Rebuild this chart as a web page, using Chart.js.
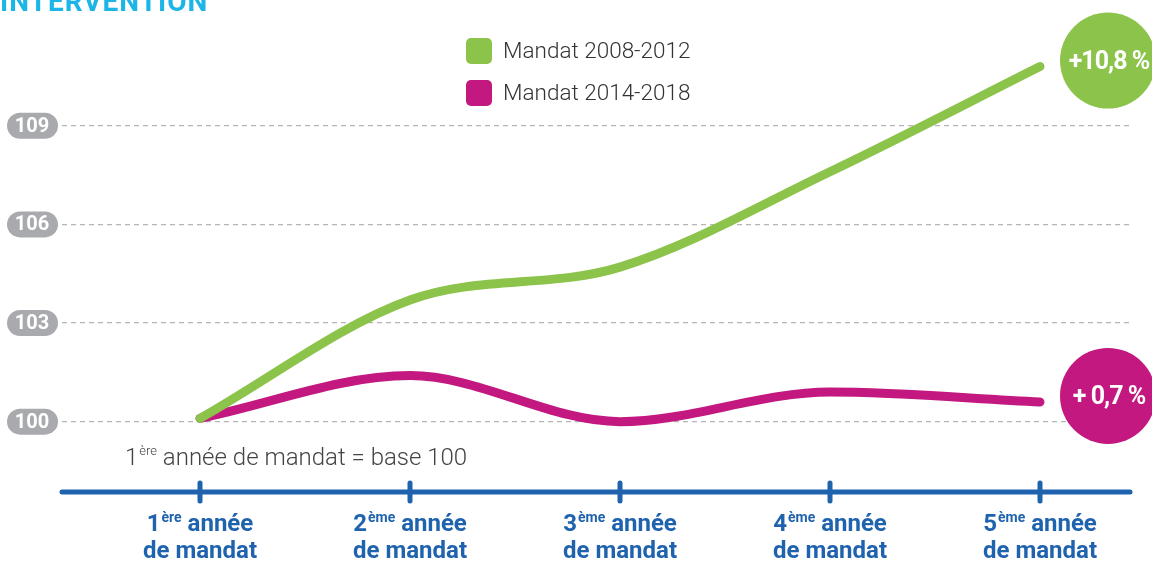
<!DOCTYPE html>
<html>
<head>
<meta charset="utf-8">
<script src="https://cdn.jsdelivr.net/npm/chart.js@4.4.1/dist/chart.umd.min.js"></script>
<style>
  html, body { margin: 0; padding: 0; background: #fff; }
  #wrap { position: relative; width: 1152px; height: 562px; }
</style>
</head>
<body>
<div id="wrap"><canvas id="mandatChart"></canvas></div>
<script>
const years = [1, 2, 3, 4, 5];
const yearNums = ['1', '2', '3', '4', '5'];
const yearSups = ['ère', 'ème', 'ème', 'ème', 'ème'];
const seriesLabels = ['Mandat 2008-2012', 'Mandat 2014-2018'];
const mandat2008 = [100.1, 103.7, 104.7, 107.6, 110.8];
const mandat2014 = [100.1, 101.4, 100.0, 100.9, 100.6];
const yTicks = [100, 103, 106, 109];
const badges = ['+10,8 %', '+ 0,7 %'];

const GREEN = '#8cc34a';
const MAGENTA = '#c2187f';
const BLUE = '#1f63ae';
const PILL = '#a9aaad';
const FONT = 'Roboto, "DejaVu Sans", sans-serif';

function roundRect(ctx, x, y, w, h, r) {
    ctx.beginPath();
    ctx.roundRect(x, y, w, h, r);
    ctx.fill();
}

const decorPlugin = {
    id: 'decor',
    afterDraw(chart) {
        const ctx = chart.ctx;
        const area = chart.chartArea;
        const xs = chart.scales.x;
        const ys = chart.scales.y;
        ctx.save();

        // title cut off at the top
        ctx.fillStyle = '#1cb5e8';
        ctx.font = 'bold 28px ' + FONT;
        ctx.letterSpacing = '1px';
        ctx.textBaseline = 'alphabetic';
        ctx.textAlign = 'left';
        ctx.fillText('INTERVENTION', 0, 11);
        ctx.letterSpacing = '0px';

        // y tick pills
        yTicks.forEach(v => {
            const y = ys.getPixelForValue(v);
            ctx.fillStyle = PILL;
            roundRect(ctx, 7, y - 13, 51, 26, 13);
            ctx.fillStyle = '#fff';
            ctx.font = 'bold 20px ' + FONT;
            ctx.textAlign = 'center';
            ctx.textBaseline = 'middle';
            ctx.fillText(String(v), 32, y + 1);
        });

        // x axis line and ticks
        ctx.strokeStyle = BLUE;
        ctx.lineCap = 'round';
        ctx.lineWidth = 5;
        ctx.beginPath();
        ctx.moveTo(area.left, area.bottom);
        ctx.lineTo(area.right, area.bottom);
        ctx.stroke();
        years.forEach((yr, i) => {
            const x = xs.getPixelForValue(yr);
            ctx.beginPath();
            ctx.moveTo(x, area.bottom - 9);
            ctx.lineTo(x, area.bottom + 9);
            ctx.stroke();

            ctx.fillStyle = BLUE;
            ctx.textBaseline = 'alphabetic';
            ctx.textAlign = 'left';
            const big = 'bold 24px ' + FONT;
            const small = 'bold 14px ' + FONT;
            ctx.font = big;
            const wNum = ctx.measureText(yearNums[i]).width;
            const wRest = ctx.measureText(' année').width;
            ctx.font = small;
            const wSup = ctx.measureText(yearSups[i]).width;
            let sx = x - (wNum + wSup + 1 + wRest) / 2;
            ctx.font = big;
            ctx.fillText(yearNums[i], sx, 531);
            ctx.font = small;
            ctx.fillText(yearSups[i], sx + wNum + 1, 522);
            ctx.font = big;
            ctx.fillText(' année', sx + wNum + wSup + 1, 531);
            ctx.textAlign = 'center';
            ctx.fillText('de mandat', x, 558);
        });

        // base note
        ctx.fillStyle = '#444';
        ctx.textAlign = 'left';
        ctx.font = '300 24px ' + FONT;
        ctx.fillText('1', 125, 465);
        let nx = 125 + ctx.measureText('1').width + 1;
        ctx.font = '300 13px ' + FONT;
        ctx.fillText('ère', nx, 455);
        nx += ctx.measureText('ère').width;
        ctx.font = '300 24px ' + FONT;
        ctx.fillText(' année de mandat = base 100', nx, 465);

        // legend
        const cols = [GREEN, MAGENTA];
        seriesLabels.forEach((lab, i) => {
            const y = 51 + i * 42;
            ctx.fillStyle = cols[i];
            roundRect(ctx, 466, y - 13, 26, 26, 5);
            ctx.fillStyle = '#333';
            ctx.font = '300 22.5px ' + FONT;
            ctx.textBaseline = 'middle';
            ctx.fillText(lab, 503, y + 1);
        });

        // end badges
        chart.data.datasets.forEach((ds, i) => {
            const meta = chart.getDatasetMeta(i);
            const pt = meta.data[meta.data.length - 1];
            const cx = pt.x + 68, cy = pt.y - 6;
            ctx.fillStyle = cols[i];
            ctx.beginPath();
            ctx.arc(cx, cy, 48, 0, Math.PI * 2);
            ctx.fill();
            ctx.fillStyle = '#fff';
            ctx.font = 'bold 25px ' + FONT;
            ctx.letterSpacing = '-1px';
            ctx.textAlign = 'center';
            ctx.textBaseline = 'middle';
            ctx.fillText(badges[i], cx + 1, cy + 2);
            ctx.letterSpacing = '0px';
        });

        ctx.restore();
    }
};

const lineStyle = {
    borderWidth: 9,
    pointRadius: 0,
    borderCapStyle: 'round',
    borderJoinStyle: 'round',
    cubicInterpolationMode: 'monotone',
    clip: false,
    fill: false
};

new Chart(document.getElementById('mandatChart'), {
    type: 'line',
    data: {
        datasets: [
            { ...lineStyle, label: seriesLabels[0], borderColor: GREEN,
              data: years.map((x, i) => ({ x, y: mandat2008[i] })) },
            { ...lineStyle, label: seriesLabels[1], borderColor: MAGENTA,
              data: years.map((x, i) => ({ x, y: mandat2014[i] })) }
        ]
    },
    options: {
        responsive: true,
        maintainAspectRatio: false,
        animation: false,
        layout: { padding: { left: 62, right: 22, top: 60, bottom: 70 } },
        plugins: { legend: { display: false }, tooltip: { enabled: false } },
        scales: {
            x: {
                type: 'linear',
                display: false,
                min: 1 - 138 / 210,
                max: 5 + 90 / 210
            },
            y: {
                min: 97.86,
                max: 111,
                afterBuildTicks: s => { s.ticks = yTicks.map(v => ({ value: v })); },
                ticks: { display: false },
                border: { display: false, dash: [5, 4] },
                grid: { color: '#b5b5b5', lineWidth: 1.3, drawTicks: false }
            }
        }
    },
    plugins: [decorPlugin]
});
</script>
</body>
</html>
